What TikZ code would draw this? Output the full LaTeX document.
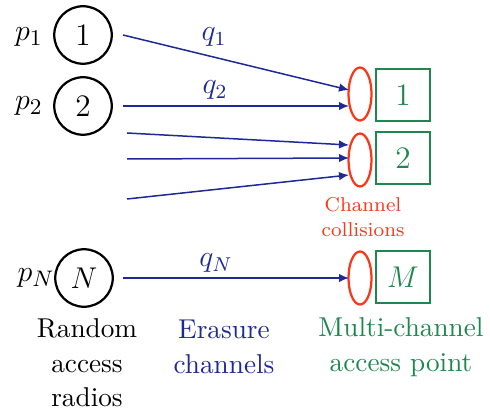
\documentclass[tikz,border=0pt]{standalone}
\usetikzlibrary{arrows.meta,shapes.geometric}
\definecolor{navy}{RGB}{30,40,150}
\definecolor{collred}{RGB}{250,55,25}
\definecolor{apgreen}{RGB}{30,135,80}
\begin{document}
\begin{tikzpicture}[x=0.4pt,y=-0.4pt,
  radio/.style={circle,draw=black,line width=0.9pt,minimum size=23pt,inner sep=0pt,font=\fontsize{12.5}{14}\selectfont},
  plabel/.style={font=\fontsize{12.5}{14}\selectfont},
  qlabel/.style={text=navy,font=\fontsize{12}{14}\selectfont},
  chan/.style={draw=navy,line width=0.6pt,-{Latex[length=4pt,width=3.4pt]}},
  coll/.style={ellipse,draw=collred,line width=0.9pt,minimum width=9.2pt,minimum height=21.2pt,inner sep=0pt},
  apbox/.style={rectangle,draw=apgreen,line width=0.9pt,minimum width=21.6pt,minimum height=21pt,inner sep=0pt,text=apgreen,font=\fontsize{12.5}{14}\selectfont},
  caption/.style={align=center,font=\fontsize{10.9}{13.8}\selectfont}]
\useasboundingbox (0,0) rectangle (490,411);

% random access radios
\node[radio] (r1) at (83,35) {1};
\node[radio] (r2) at (83,106) {2};
\node[radio] (rN) at (84,278) {$N$};
\node[plabel] (p1) at (29,37) {$p_1$};
\node[plabel] (p2) at (29,106) {$p_2$};
\node[plabel] (pN) at (36,278) {$p_N$};

% collision ellipses and access point channels
\node[coll] (e1) at (360,94) {};
\node[coll] (e2) at (360,160) {};
\node[coll] (eM) at (360,278) {};
\node[apbox] (b1) at (403,95) {1};
\node[apbox] (b2) at (403,158) {2};
\node[apbox] (bM) at (403,277) {$M$};

% arrow targets on the ellipses
\coordinate (t1) at (349,90);
\coordinate (t2) at (349,106);
\coordinate (t3) at (349,145);
\coordinate (t4) at (349,158);
\coordinate (t5) at (349,175);
\coordinate (tM) at (349,278);
% starts of the channels
\coordinate (s1) at (123,35);
\coordinate (s2) at (123,106);
\coordinate (s3) at (127,133);
\coordinate (s4) at (127,159);
\coordinate (s5) at (127,199);
\coordinate (sN) at (123,278);

\draw[chan] (s1) -- (t1);
\draw[chan] (s2) -- (t2);
\draw[chan] (s3) -- (t3);
\draw[chan] (s4) -- (t4);
\draw[chan] (s5) -- (t5);
\draw[chan] (sN) -- (tM);

\node[qlabel] (q1) at (214,37) {$q_1$};
\node[qlabel] (q2) at (215,90) {$q_2$};
\node[qlabel] (qN) at (216,263) {$q_N$};

\node[align=center,text=collred,font=\fontsize{8}{10}\selectfont] (cc) at (363,217) {Channel\\collisions};

% captions
\node[caption] (capR) at (87,363) {Random\\access\\radios};
\node[caption,text=navy] (capE) at (224,347) {Erasure\\channels};
\node[caption,text=apgreen] (capM) at (401,347) {Multi-channel\\access point};
\end{tikzpicture}
\end{document}
